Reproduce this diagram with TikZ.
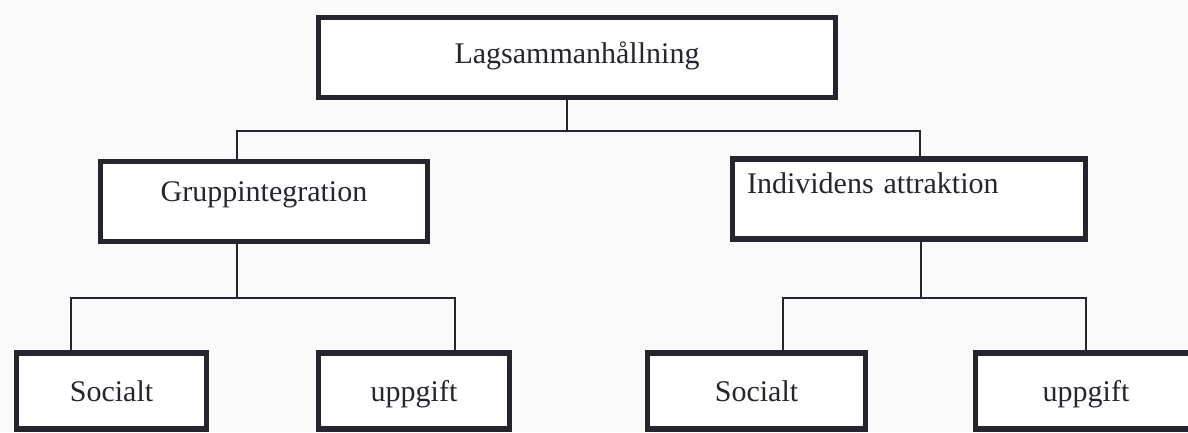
\documentclass[tikz,border=0pt]{standalone}
\usepackage{fontspec}
\setmainfont{Liberation Serif}
\usepackage{tikz}
\usetikzlibrary{calc}
\usetikzlibrary{positioning}

\definecolor{ink}{RGB}{40,36,46}

\begin{document}
\begin{tikzpicture}[
    x=1pt, y=-1pt,
    font=\fontsize{30}{36}\selectfont,
    box/.style={rectangle, draw=ink, line width=5.5pt, fill=white, text=ink, inner sep=5pt},
    topbox/.style={box, minimum width=517pt, minimum height=80pt, text height=21pt, text depth=10pt},
    midbox/.style={box, minimum height=80pt, text height=21pt, text depth=21pt},
    leafbox/.style={box, minimum height=76pt, text height=21pt, text depth=0pt},
    link/.style={draw=ink, line width=2.8pt}
]
    \fill[gray!4] (0,0) rectangle (1188,432);
    \clip (0,0) rectangle (1188,432);

    % --- Top level ---
    \node[topbox] (lag) at (577,57.5) {Lagsammanhållning};

    % --- Second level ---
    \node[midbox, minimum width=327pt] (grp) at (264,201.5) {Gruppintegration};
    \node[midbox, minimum width=353pt, text width=324pt, align=left, text depth=33pt] (ind) at (909,199) {Individens attraktion};

    % --- Leaves ---
    \node[leafbox, minimum width=190pt] (soc1) at (111.5,391) {Socialt};
    \node[leafbox, minimum width=191pt] (upp1) at (414,391) {uppgift};
    \node[leafbox, minimum width=218pt] (soc2) at (756.5,391) {Socialt};
    \node[leafbox, minimum width=221pt] (upp2) at (1086,391) {uppgift};

    % --- Junctions ---
    \coordinate (j0) at (567,131);
    \coordinate (jl) at (237,131);
    \coordinate (jr) at (920,131);
    \coordinate (ga) at (237,298);
    \coordinate (gl) at (71,298);
    \coordinate (gr) at (455,298);
    \coordinate (ia) at (921,298);
    \coordinate (il) at (783,298);
    \coordinate (ir) at (1086,298);

    % --- Lag -> Grupp / Individ ---
    \draw[link] (lag.south -| j0) -- (j0);
    \draw[link] (grp.north -| jl) -- (jl) -- (jr) -- (ind.north -| jr);

    % --- Grupp -> Socialt / uppgift ---
    \draw[link] (grp.south -| ga) -- (ga);
    \draw[link] (soc1.north -| gl) -- (gl) -- (gr) -- (upp1.north -| gr);

    % --- Individ -> Socialt / uppgift ---
    \draw[link] (ind.south -| ia) -- (ia);
    \draw[link] (soc2.north -| il) -- (il) -- (ir) -- (upp2.north -| ir);

\end{tikzpicture}
\end{document}
